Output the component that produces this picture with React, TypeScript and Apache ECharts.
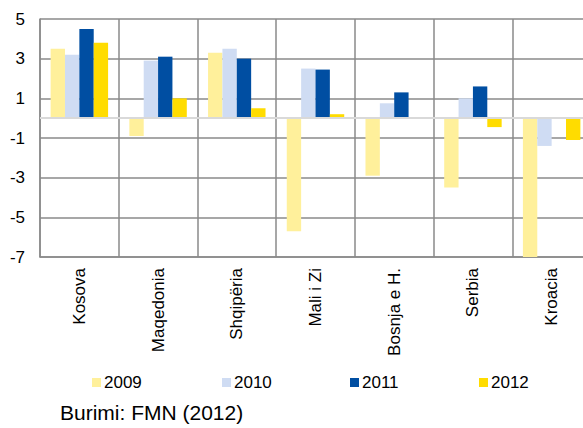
import React, { useEffect, useRef } from "react";
import * as echarts from "echarts";

const categories = ["Kosova", "Maqedonia", "Shqipëria", "Mali i Zi", "Bosnja e H.", "Serbia", "Kroacia"];
const years = ["2009", "2010", "2011", "2012"];
const values2009 = [3.5, -0.9, 3.3, -5.7, -2.9, -3.5, -7.0];
const values2010 = [3.2, 2.9, 3.5, 2.5, 0.75, 1.0, -1.4];
const values2011 = [4.5, 3.1, 3.0, 2.45, 1.3, 1.6, 0];
const values2012 = [3.8, 1.0, 0.5, 0.2, 0, -0.45, -1.1];
const colors = ["#fff09b", "#cfdcf3", "#004ea2", "#ffdc00"];
const sourceText = "Burimi: FMN (2012)";

const FONT = "'Liberation Sans', Arial, sans-serif";
const legendLefts = [92, 222, 350, 479];

export default function App() {
  const ref = useRef<HTMLDivElement>(null);
  useEffect(() => {
    if (!ref.current) return;
    const chart = echarts.init(ref.current, null, { renderer: "svg" });
    const seriesData = [values2009, values2010, values2011, values2012];
    chart.setOption({
      animation: false,
      textStyle: { fontFamily: FONT },
      grid: { left: 40, top: 19, bottom: 171, right: 0, containLabel: false },
      legend: years.map((y, i) => ({
        data: [y],
        left: legendLefts[i],
        top: 374,
        padding: 0,
        icon: "rect",
        itemWidth: 9,
        itemHeight: 9,
        textStyle: { fontSize: 17, color: "#000", fontFamily: FONT, lineHeight: 17, padding: [0, 0, 0, -2] },
      })),
      xAxis: {
        type: "category",
        data: categories,
        boundaryGap: true,
        axisLine: { show: true, onZero: false, lineStyle: { color: "#8a8a8a", width: 1.5 } },
        axisTick: { show: false },
        splitLine: { show: true, lineStyle: { color: "#8a8a8a", width: 1.5 } },
        axisLabel: { rotate: 90, margin: 11, fontSize: 17, color: "#000", fontFamily: FONT },
      },
      yAxis: {
        type: "value",
        min: -7,
        max: 5,
        interval: 2,
        axisLine: { show: true, lineStyle: { color: "#8a8a8a", width: 1.5 } },
        axisTick: { show: false },
        splitLine: { show: true, lineStyle: { color: "#8a8a8a", width: 1.5 } },
        axisLabel: { margin: 15, fontSize: 17, color: "#000", fontFamily: FONT },
      },
      series: years.map((y, i) => ({
        name: y,
        type: "bar",
        data: seriesData[i],
        barGap: "0%",
        barCategoryGap: "27%",
        itemStyle: { color: colors[i] },
        ...(i === years.length - 1
          ? {
              markLine: {
                silent: true,
                symbol: "none",
                label: { show: false },
                lineStyle: { color: "#d9d9d9", width: 2, type: "solid" },
                data: [{ yAxis: 0 }],
              },
            }
          : {}),
      })),
      graphic: [
        {
          type: "text",
          left: 60,
          top: 402,
          style: { text: sourceText, fontSize: 21, fill: "#000", fontFamily: FONT },
        },
      ],
    });
    return () => chart.dispose();
  }, []);
  return (
    <div style={{ position: "absolute", left: 0, top: 0, width: 583, height: 428, overflow: "hidden" }}>
      <div ref={ref} style={{ width: 591, height: 428 }} />
    </div>
  );
}
